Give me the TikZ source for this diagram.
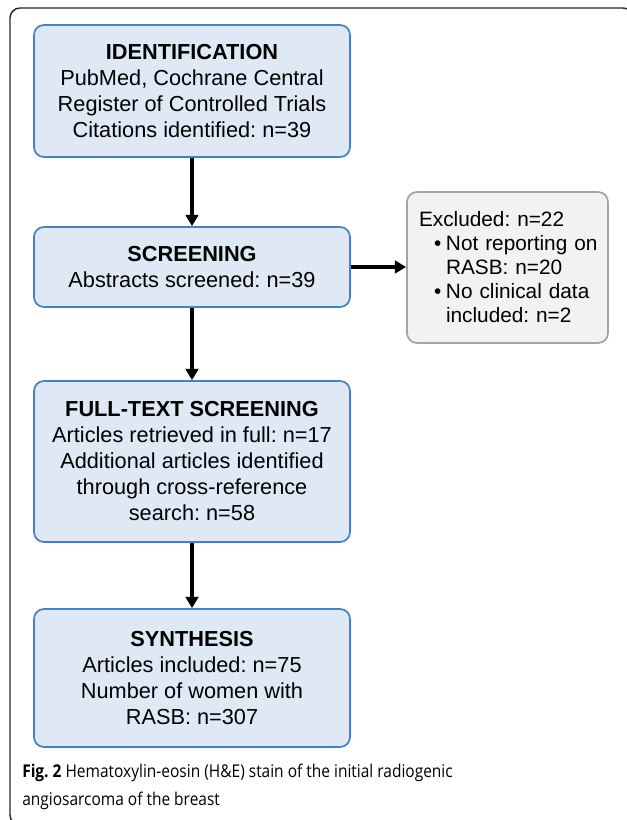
\documentclass[tikz,border=0pt]{standalone}
\usepackage{fontspec}
\setmainfont{Liberation Sans}
\newfontfamily\capfont[FakeStretch=0.88]{Open Sans}
\usetikzlibrary{arrows.meta}
\frenchspacing

\definecolor{stagefill}{HTML}{DEE9F5}
\definecolor{stageline}{HTML}{4382C3}
\definecolor{exclfill}{HTML}{F2F2F2}
\definecolor{exclline}{HTML}{A3A3A3}

\tikzset{
  stage/.style={draw=stageline, fill=stagefill, line width=1.3pt,
    rounded corners=7.5pt, minimum width=237pt, inner sep=0pt,
    align=center, font=\fontsize{16.3}{19.5}\selectfont},
  excluded/.style={draw=exclline, fill=exclfill, line width=1.3pt,
    rounded corners=7.5pt, minimum width=150.75pt, minimum height=113.25pt,
    inner xsep=9pt, inner ysep=0pt, text width=132.75pt,
    align=left, font=\fontsize{15.6}{18}\selectfont},
  flow/.style={line width=2.6pt, -{Triangle[length=8.5pt,width=9.5pt]}},
  frame/.style={draw=black!85, line width=1.1pt, rounded corners=7.5pt},
}

\begin{document}
\begin{tikzpicture}[x=0.75pt,y=-0.75pt]
\useasboundingbox (0,0) rectangle (627,820);
\draw[frame] (10,8) rectangle (633,825);
\node[stage, minimum height=99pt] (ident) at (192,91)
  {\textbf{IDENTIFICATION}\\PubMed, Cochrane Central\\Register of Controlled Trials\\Citations identified: n=39};
\node[stage, minimum height=60pt] (screen) at (192,267)
  {\textbf{SCREENING}\\Abstracts screened: n=39};
\node[stage, minimum height=120.75pt] (fulltext) at (192,461.5)
  {\textbf{FULL-TEXT SCREENING}\\Articles retrieved in full: n=17\\Additional articles identified\\through cross-reference\\search: n=58};
\node[stage, minimum height=103.5pt] (synth) at (192,678)
  {\textbf{SYNTHESIS}\\Articles included: n=75\\Number of women with\\RASB: n=307};
\node[excluded] (excl) at (507.5,267.5)
  {\mbox{Excluded: n=22}\\
   \mbox{\hspace*{11.25pt}\makebox[9pt][l]{•}Not reporting on}\\
   \mbox{\hspace*{20.25pt}RASB: n=20}\\
   \mbox{\hspace*{11.25pt}\makebox[9pt][l]{•}No clinical data}\\
   \mbox{\hspace*{20.25pt}included: n=2}};
\draw[flow] (ident) -- (screen);
\draw[flow] (screen) -- (fulltext);
\draw[flow] (fulltext) -- (synth);
\draw[flow] (screen.east) -- (excl.west |- screen.east);
\node[anchor=north west, inner sep=0pt, align=left,
  font=\capfont\fontsize{13.2}{21}\selectfont] (caption) at (22,764)
  {\textbf{Fig. 2} Hematoxylin-eosin (H\&E) stain of the initial radiogenic\\angiosarcoma of the breast};
\end{tikzpicture}
\end{document}
